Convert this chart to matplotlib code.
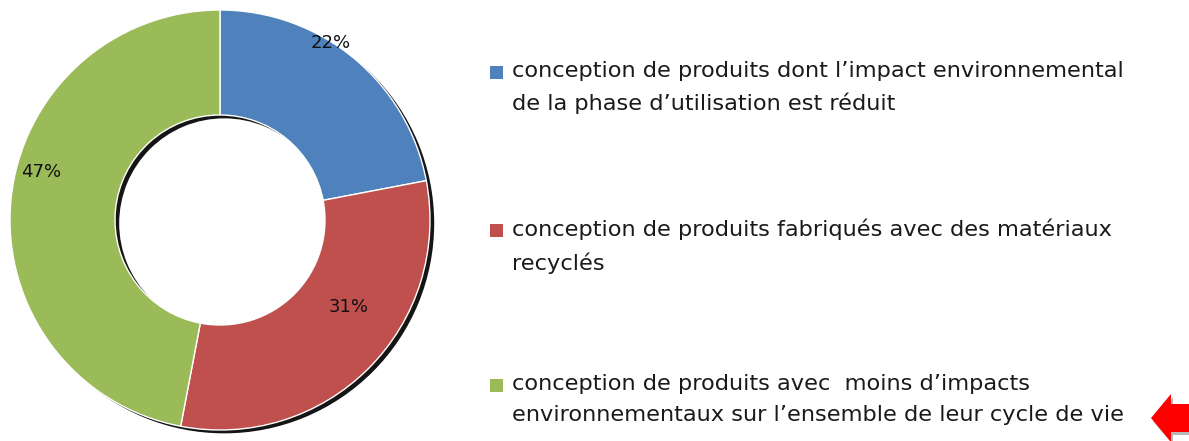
import numpy as np
import matplotlib
matplotlib.use("Agg")
import matplotlib.pyplot as plt
from matplotlib.patches import Rectangle, Polygon

# Data
values = [22, 31, 47]
colors = ["#4F81BD", "#C0504D", "#9BBB59"]
labels = [
    "conception de produits dont l\u2019impact environnemental\nde la phase d\u2019utilisation est r\u00e9duit",
    "conception de produits fabriqu\u00e9s avec des mat\u00e9riaux\nrecycl\u00e9s",
    "conception de produits avec  moins d\u2019impacts\nenvironnementaux sur l\u2019ensemble de leur cycle de vie",
]
# percentage label placement (radius, angle clockwise from top in degrees)
pct_pos = [(0.995, 32), (0.74, 124), (0.88, 285)]

W, H = 1189, 441
fig = plt.figure(figsize=(W / 100, H / 100), dpi=100)
fig.patch.set_facecolor("white")

ax = fig.add_axes([10 / W, 11 / H, 420 / W, 420 / H])

# shadow ring behind the donut
shadow, _ = ax.pie([1], colors=["#151515"], radius=1.0, center=(0.02, -0.016),
                   wedgeprops=dict(width=0.5, linewidth=0), startangle=90)
for w in shadow:
    w.set_clip_on(False)

wedges, _ = ax.pie(values, colors=colors, startangle=90, counterclock=False,
                   radius=1.0, wedgeprops=dict(width=0.5, edgecolor="white", linewidth=1.0))
for w in wedges:
    w.set_clip_on(False)

for v, (r, a) in zip(values, pct_pos):
    t = np.deg2rad(a)
    ax.text(r * np.sin(t), r * np.cos(t), f"{v}%", ha="center", va="center",
            fontsize=13, color="#111111", family="DejaVu Sans")

ax.set_xlim(-1, 1)
ax.set_ylim(-1, 1)
ax.set_aspect("equal")
ax.axis("off")

# legend drawn manually in figure pixels
entry_y = [72, 230, 385]
for c, lab, y in zip(colors, labels, entry_y):
    fig.patches.append(Rectangle((490 / W, 1 - (y + 7) / H), 13 / W, 13 / H,
                                 transform=fig.transFigure, facecolor=c, edgecolor="none"))
    fig.text(512 / W, 1 - (y - 11) / H, lab, ha="left", va="top", fontsize=16.2,
             color="#1a1a1a", linespacing=1.66, family="DejaVu Sans")

# red arrow pointing left at the last entry
arrow = np.array([[1151, 418], [1171, 394], [1171, 404], [1189, 404],
                  [1189, 432], [1171, 432], [1171, 442]], dtype=float)
shadow_pts = arrow + np.array([2, 3])
to_fig = lambda p: np.column_stack([p[:, 0] / W, 1 - p[:, 1] / H])
fig.patches.append(Polygon(to_fig(shadow_pts), closed=True, transform=fig.transFigure,
                           facecolor="#b8b8b8", edgecolor="none"))
fig.patches.append(Polygon(to_fig(arrow), closed=True, transform=fig.transFigure,
                           facecolor="#ff0000", edgecolor="none"))

fig.savefig("out.png", dpi=100, facecolor="white")
